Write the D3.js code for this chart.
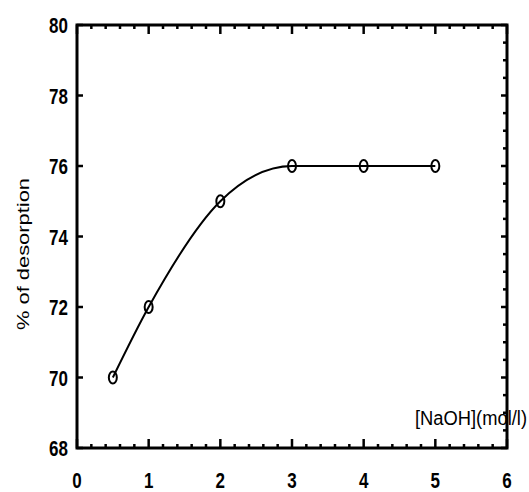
<!DOCTYPE html>
<html>
<head>
<meta charset="utf-8">
<script src="https://cdn.jsdelivr.net/npm/d3@7/dist/d3.min.js"></script>
<style>
  html, body { margin: 0; padding: 0; background: #fff; }
  svg { display: block; }
  text { font-family: "Liberation Sans", Arial, sans-serif; fill: #000; }
</style>
</head>
<body>
<svg id="chart" width="529" height="492"></svg>
<script>
// ---- data ----
const naoh = [0.5, 1, 2, 3, 4, 5];
const desorption = [70, 72, 75, 76, 76, 76];
const xTickLabels = [0, 1, 2, 3, 4, 5, 6];
const yTickLabels = [68, 70, 72, 74, 76, 78, 80];
const xTitle = "[NaOH](mol/l)";
const yTitle = "% of desorption";

(function () {
const svg = d3.select("#chart");
const pL = 77, pR = 507, pT = 25, pB = 448;

const x = d3.scaleLinear().domain([0, 6]).range([pL, pR]);
const y = d3.scaleLinear().domain([68, 80]).range([pB, pT]);

const xMinor = d3.range(0, 6.0001, 0.2).map(v => +v.toFixed(1)).filter(v => !xTickLabels.includes(v));
const yMinor = d3.range(68, 80.0001, 0.5).filter(v => !yTickLabels.includes(v));

const g = svg.append("g");

function tickLines(vals, fn) {
  g.append("g").selectAll("line").data(vals).join("line")
    .attr("stroke", "#000").attr("stroke-width", 2.5)
    .each(function(d) { const a = fn(d); d3.select(this).attr("x1", a[0]).attr("y1", a[1]).attr("x2", a[2]).attr("y2", a[3]); });
}
tickLines(xTickLabels, d => [x(d), pB, x(d), pB - 9]);
tickLines(xMinor, d => [x(d), pB, x(d), pB - 4]);
tickLines(xTickLabels, d => [x(d), pT, x(d), pT + 9]);
tickLines(xMinor, d => [x(d), pT, x(d), pT + 4]);
tickLines(yTickLabels, d => [pL, y(d), pL + 6, y(d)]);
tickLines(yTickLabels, d => [pR, y(d), pR - 6, y(d)]);
tickLines(yMinor, d => [pR, y(d), pR - 4, y(d)]);

// frame
g.append("rect")
  .attr("x", pL).attr("y", pT)
  .attr("width", pR - pL).attr("height", pB - pT)
  .attr("fill", "none").attr("stroke", "#000").attr("stroke-width", 3);

// tick labels
g.append("g").selectAll("text").data(xTickLabels).join("text")
  .attr("transform", d => `translate(${x(d)},${pB + 40}) scale(1,1.3)`)
  .attr("text-anchor", "middle")
  .style("font-size", "17px").style("font-weight", "bold")
  .text(d => d);

g.append("g").selectAll("text").data(yTickLabels).join("text")
  .attr("transform", d => `translate(${pL - 9},${y(d) + 8}) scale(1,1.35)`)
  .attr("text-anchor", "end")
  .style("font-size", "17px").style("font-weight", "bold")
  .text(d => d);

// axis titles
g.append("text")
  .attr("transform", `translate(29,${(178 + 330) / 2}) rotate(-90)`)
  .attr("text-anchor", "middle")
  .attr("textLength", 152).attr("lengthAdjust", "spacingAndGlyphs")
  .style("font-size", "17px")
  .text(yTitle);

g.append("text")
  .attr("transform", `translate(415,425) scale(1,1.3)`)
  .attr("textLength", 112).attr("lengthAdjust", "spacingAndGlyphs")
  .style("font-size", "16px")
  .text(xTitle);

// curve
const pts = naoh.map((v, i) => [v, desorption[i]]);
const line = d3.line().x(d => x(d[0])).y(d => y(d[1])).curve(d3.curveMonotoneX);
g.append("path").datum(pts)
  .attr("d", line).attr("fill", "none").attr("stroke", "#000").attr("stroke-width", 2);

// markers
g.append("g").selectAll("ellipse").data(pts).join("ellipse")
  .attr("cx", d => x(d[0])).attr("cy", d => y(d[1]))
  .attr("rx", 4).attr("ry", 6)
  .attr("fill", "none").attr("stroke", "#000").attr("stroke-width", 2);
})();
</script>
</body>
</html>
